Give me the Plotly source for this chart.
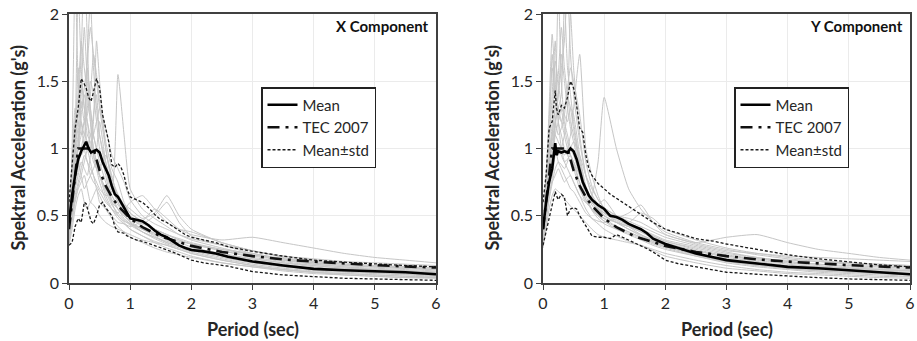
import plotly.graph_objects as go

# ---------------- data ----------------
periods = [0, .05, .1, .15, .2, .25, .3, .35, .4, .45, .5, .6, .7, .8, .9, 1.0,
           1.2, 1.4, 1.6, 1.8, 2.0, 2.5, 3.0, 3.5, 4.0, 4.5, 5.0, 5.5, 6.0]

records_x = [
    [.40,.70,1.10,2.20,1.60,1.30,1.20,1.00,.90,.85,.80,.70,.60,.55,.50,.45,.40,.36,.32,.28,.25,.20,.16,.13,.10,.09,.08,.07,.06],
    [.35,.60,.90,1.00,1.40,1.90,1.50,1.30,1.10,1.00,.90,.75,.62,.55,.48,.44,.38,.34,.30,.27,.24,.19,.15,.12,.10,.085,.075,.065,.055],
    [.45,.80,1.20,1.10,.95,1.00,1.70,2.10,1.60,1.30,1.10,.90,.70,.60,.52,.48,.42,.37,.33,.30,.27,.21,.17,.14,.11,.10,.09,.08,.07],
    [.30,.50,.70,.80,.90,.85,.80,.95,1.20,1.80,1.50,1.00,.75,.65,.55,.50,.44,.40,.36,.32,.29,.24,.20,.17,.14,.12,.11,.10,.09],
    [.50,.90,1.30,1.20,1.10,1.20,1.00,.90,.80,.75,.70,.65,.68,1.55,1.10,.70,.55,.48,.42,.36,.32,.26,.21,.17,.14,.12,.10,.09,.08],
    [.30,.45,.60,.70,.75,.80,.70,.60,.65,.70,.60,.55,.50,.45,.44,.42,.46,.55,.48,.40,.36,.32,.34,.30,.26,.22,.19,.17,.15],
    [.40,.60,.80,1.00,1.20,1.10,1.30,1.50,1.40,1.20,1.00,.80,.60,.50,.45,.40,.35,.30,.26,.23,.20,.15,.12,.09,.07,.06,.05,.04,.04],
    [.35,.55,.75,.90,.80,.70,.75,.80,.85,.90,.85,.95,.80,.62,.55,.60,.65,.55,.45,.40,.38,.30,.24,.20,.18,.16,.15,.14,.13],
    [.28,.40,.55,.65,.70,.60,.55,.60,.58,.55,.50,.45,.42,.40,.38,.36,.32,.30,.28,.25,.22,.17,.13,.10,.08,.06,.05,.04,.035],
    [.45,.75,1.00,1.60,1.30,1.40,1.20,1.10,1.25,1.40,1.10,.85,.65,.58,.52,.48,.44,.50,.60,.45,.35,.28,.22,.18,.15,.13,.12,.11,.10],
    [.38,.65,.95,1.10,1.50,1.30,1.10,1.05,.95,.85,.80,.70,.65,.55,.50,.46,.40,.35,.30,.28,.26,.22,.18,.15,.13,.11,.10,.09,.08],
    [.32,.50,.65,.75,.85,.95,.90,.80,.75,.72,.68,.60,.55,.50,.46,.44,.40,.37,.34,.31,.29,.25,.22,.18,.15,.13,.12,.11,.10],
    [.42,.70,1.20,1.40,1.80,1.60,1.40,1.20,1.00,.90,.80,.68,.58,.52,.47,.43,.38,.34,.31,.28,.25,.21,.18,.15,.12,.10,.09,.08,.07],
    [.36,.55,.85,1.00,1.10,1.20,1.60,1.30,1.10,1.00,1.20,.90,.72,.60,.52,.45,.38,.33,.29,.26,.23,.18,.14,.11,.09,.08,.07,.06,.05],
    [.30,1.00,2.30,1.50,1.20,1.00,.90,.85,.80,.70,.65,.55,.48,.42,.38,.34,.30,.26,.23,.21,.19,.15,.12,.10,.08,.07,.06,.05,.045],
    [.33,.55,.90,1.30,1.70,2.40,1.80,1.20,1.00,.90,.80,.65,.55,.48,.44,.40,.35,.31,.28,.25,.22,.17,.13,.10,.08,.07,.06,.05,.04],
    [.40,.62,.88,1.05,1.25,1.45,1.65,1.90,1.70,1.50,1.30,1.00,.78,.66,.58,.52,.45,.40,.36,.33,.30,.25,.21,.18,.16,.14,.13,.12,.11],
    [.36,.50,.70,.85,1.00,1.10,1.05,1.00,1.10,1.20,1.30,1.15,.95,.85,.75,.62,.50,.44,.40,.36,.33,.28,.24,.20,.17,.15,.13,.12,.11],
    [.30,.48,.62,.72,.80,.90,1.00,1.10,.95,.85,.75,.62,.55,.52,.58,.55,.48,.52,.65,.50,.40,.30,.24,.19,.16,.14,.12,.11,.10],
    [.44,.75,1.05,1.25,1.35,1.20,1.25,1.40,1.70,1.55,1.35,1.05,.85,.75,.60,.52,.46,.40,.36,.32,.29,.24,.19,.16,.13,.11,.10,.09,.08],
]

records_y = [
    [.35,.60,1.00,1.40,1.80,1.20,1.10,1.00,.95,.90,.85,.70,.60,.55,.50,.46,.42,.38,.34,.30,.27,.21,.17,.14,.11,.10,.09,.08,.07],
    [.30,.55,.85,1.10,1.30,2.20,1.50,1.20,1.10,1.00,.95,.80,.65,.55,.50,.46,.40,.36,.32,.28,.25,.20,.16,.13,.11,.09,.08,.07,.06],
    [.45,.80,1.10,1.00,1.20,1.30,1.40,2.10,1.60,1.40,1.20,.90,.70,.60,.55,.50,.45,.40,.35,.31,.28,.22,.18,.15,.12,.11,.10,.09,.08],
    [.28,.45,.70,.90,1.00,.95,1.00,1.10,1.30,2.00,1.60,1.10,.80,.65,.56,.50,.45,.42,.40,.36,.32,.27,.22,.19,.16,.14,.12,.11,.10],
    [.40,.65,.90,1.00,1.10,1.05,1.00,.95,1.00,1.10,1.30,1.70,1.00,.80,.65,.55,.48,.44,.40,.35,.31,.25,.20,.17,.14,.12,.11,.10,.09],
    [.32,.50,.65,.75,.80,.85,.80,.75,.78,.80,.75,.65,.60,.65,.90,1.38,1.00,.70,.55,.45,.38,.30,.25,.21,.18,.16,.14,.13,.12],
    [.38,.60,.85,.95,1.00,.90,.85,.80,.75,.70,.68,.60,.52,.48,.46,.45,.48,.52,.58,.45,.36,.30,.34,.36,.30,.25,.22,.19,.17],
    [.26,.40,.55,.65,.70,.68,.66,.62,.60,.57,.55,.50,.45,.40,.36,.34,.32,.30,.28,.24,.20,.15,.11,.09,.07,.06,.05,.04,.035],
    [.42,.70,1.20,1.60,1.40,1.30,1.20,1.10,1.00,.95,.90,.75,.62,.55,.50,.48,.45,.42,.38,.33,.29,.24,.20,.18,.17,.16,.15,.14,.13],
    [.36,.58,.80,.90,1.10,1.20,1.30,1.25,1.20,1.30,1.25,.95,.72,.62,.56,.52,.47,.43,.39,.35,.31,.26,.21,.18,.15,.13,.11,.10,.09],
    [.30,.48,.65,.78,.95,1.00,.95,.90,.92,.95,.90,.80,.70,.60,.55,.52,.50,.48,.45,.40,.36,.29,.24,.22,.20,.19,.18,.17,.16],
    [.44,.75,1.30,1.85,1.50,1.20,1.00,.90,.85,.80,.75,.65,.55,.48,.44,.40,.35,.31,.28,.25,.22,.17,.13,.10,.08,.07,.06,.05,.045],
    [.34,.55,.80,.95,1.20,1.40,1.70,1.50,1.30,1.15,1.05,.85,.68,.58,.52,.48,.42,.38,.34,.30,.27,.21,.16,.13,.11,.09,.08,.07,.06],
    [.40,.62,.90,1.05,1.20,1.10,1.15,1.25,1.40,1.20,1.10,.88,.70,.60,.58,.62,.50,.42,.36,.31,.27,.22,.18,.15,.12,.10,.09,.08,.07],
    [.38,.62,1.00,1.70,1.40,1.55,1.90,1.60,1.40,1.30,1.15,.90,.70,.60,.54,.50,.45,.40,.36,.32,.28,.22,.17,.14,.11,.10,.09,.08,.07],
    [.33,.52,.78,.95,1.15,1.40,1.60,1.80,2.20,1.70,1.40,1.05,.80,.66,.58,.52,.46,.42,.38,.34,.30,.24,.19,.16,.13,.12,.11,.10,.09],
    [.42,.68,.95,1.10,1.30,1.25,1.20,1.30,1.45,1.60,1.50,1.25,.90,.72,.62,.56,.50,.46,.42,.38,.34,.28,.23,.19,.16,.14,.13,.12,.11],
    [.30,.46,.62,.74,.85,.90,.88,.85,.90,1.00,1.05,.95,.80,.70,.62,.56,.50,.45,.52,.48,.40,.32,.26,.22,.19,.17,.15,.14,.13],
    [.36,.58,.85,1.20,1.65,1.50,1.30,1.15,1.05,.95,.88,.74,.62,.54,.48,.44,.40,.37,.33,.29,.26,.20,.15,.12,.10,.08,.07,.06,.05],
]

stat_periods_x = [0, .05, .1, .15, .2, .25, .28, .32, .36, .4, .45, .5, .55, .6, .65, .7, .75, .8, .85, .9, .95,
                  1.0, 1.1, 1.2, 1.3, 1.4, 1.5, 1.6, 1.7, 1.8, 1.9, 2.0, 2.2, 2.4, 2.6, 2.8, 3.0, 3.5, 4.0, 4.5, 5.0, 5.5, 6.0]
mean_x = [.45, .65, .80, .92, .98, 1.02, 1.05, 1.00, .97, .98, .99, .97, .90, .85, .80, .72, .66, .64, .60, .55, .52,
          .48, .47, .46, .43, .39, .36, .34, .31, .28, .26, .245, .235, .22, .195, .175, .16, .13, .105, .095, .088, .08, .065]
plus_x = [.60, .85, 1.15, 1.30, 1.52, 1.48, 1.45, 1.38, 1.35, 1.42, 1.52, 1.45, 1.25, 1.15, 1.05, .88, .86, .89, .86, .80, .70,
          .64, .62, .60, .56, .51, .47, .45, .42, .39, .36, .34, .32, .30, .27, .25, .235, .20, .17, .155, .14, .13, .12]
minus_x = [.28, .30, .42, .48, .45, .60, .59, .52, .46, .44, .50, .58, .60, .56, .53, .50, .42, .38, .375, .37, .35,
           .34, .32, .31, .295, .28, .265, .25, .23, .21, .19, .17, .15, .14, .125, .105, .085, .06, .045, .035, .03, .025, .02]

stat_periods_y = [0, .05, .1, .15, .2, .22, .25, .3, .35, .4, .45, .5, .55, .6, .65, .7, .75, .8, .9,
                  1.0, 1.1, 1.2, 1.3, 1.4, 1.5, 1.6, 1.7, 1.8, 2.0, 2.2, 2.5, 2.8, 3.0, 3.5, 4.0, 4.5, 5.0, 5.5, 6.0]
mean_y = [.40, .60, .75, .85, 1.04, .95, .98, .97, .98, .97, 1.00, .98, .92, .83, .75, .70, .65, .62, .58,
          .55, .50, .49, .47, .44, .42, .40, .37, .33, .29, .26, .22, .19, .17, .145, .12, .11, .095, .08, .065]
plus_y = [.60, .80, 1.15, 1.20, 1.43, 1.30, 1.25, 1.32, 1.30, 1.38, 1.50, 1.45, 1.32, 1.15, 1.12, .95, .85, .80, .74,
          .70, .66, .63, .60, .57, .54, .51, .48, .45, .40, .37, .33, .31, .29, .25, .21, .18, .155, .135, .12]
minus_y = [.28, .38, .50, .60, .68, .65, .62, .66, .64, .50, .55, .56, .55, .50, .46, .42, .38, .35, .34,
           .34, .33, .36, .34, .32, .30, .28, .255, .23, .17, .145, .12, .095, .08, .065, .05, .04, .03, .025, .02]

tec_periods = [0, .15, .4, .5, .6, .7, .8, .9, 1.0, 1.2, 1.5, 2.0, 2.5, 3.0, 3.5, 4.0, 4.5, 5.0, 5.5, 6.0]
tec_values = [.40, 1.00, 1.00, .837, .723, .639, .574, .523, .480, .415, .347, .276, .231, .200, .176, .159, .144, .133, .123, .115]

titles = ["X Component", "Y Component"]
x_title = "Period (sec)"
y_title = "Spektral Acceleration (g's)"
x_ticks = [0, 1, 2, 3, 4, 5, 6]
y_ticks = [0, 0.5, 1, 1.5, 2]
y_tick_text = ["0", "0.5", "1", "1.5", "2"]

# ---------------- figure ----------------
FONT = "Lato"
TXT = "#262626"
W, H = 917, 341
fig = go.Figure()

panels = [
    (records_x, stat_periods_x, mean_x, plus_x, minus_x, "x", "y", "legend"),
    (records_y, stat_periods_y, mean_y, plus_y, minus_y, "x2", "y2", "legend2"),
]

for recs, sp, mn, pl, mi, xa, ya, lg in panels:
    for r in recs:
        fig.add_trace(go.Scatter(x=periods, y=r, mode="lines", xaxis=xa, yaxis=ya,
                                 line=dict(color="#c6c6c6", width=1, shape="spline", smoothing=0.5),
                                 showlegend=False, hoverinfo="skip"))
    fig.add_trace(go.Scatter(x=sp, y=pl, mode="lines", xaxis=xa, yaxis=ya, name="Mean±std",
                             line=dict(color="#1a1a1a", width=1.3, dash="3px,2px"),
                             legend=lg, legendrank=3))
    fig.add_trace(go.Scatter(x=sp, y=mi, mode="lines", xaxis=xa, yaxis=ya, name="Mean±std",
                             line=dict(color="#1a1a1a", width=1.3, dash="3px,2px"),
                             showlegend=False))
    fig.add_trace(go.Scatter(x=tec_periods, y=tec_values, mode="lines", xaxis=xa, yaxis=ya, name="TEC 2007",
                             line=dict(color="#111111", width=2.6, dash="12px,6px,3px,6px"),
                             legend=lg, legendrank=2))
    fig.add_trace(go.Scatter(x=sp, y=mn, mode="lines", xaxis=xa, yaxis=ya, name="Mean",
                             line=dict(color="#000000", width=2.6),
                             legend=lg, legendrank=1))

top_px, bot_px = 14, 283
ydom = [1 - bot_px / H, 1 - top_px / H]
axis_common = dict(showline=True, linecolor="#404040", linewidth=1.5, mirror=True,
                   showgrid=True, gridcolor="#ebebeb", gridwidth=1, zeroline=False,
                   ticks="outside", ticklen=5, tickcolor="#404040", tickwidth=1.2,
                   automargin=False,
                   tickfont=dict(family=FONT, size=16, color=TXT))

x1 = [69, 436]
x2 = [543, 910]

legend_common = dict(xanchor="left", yanchor="top", bgcolor="white",
                     bordercolor="#222222", borderwidth=1.5,
                     font=dict(family=FONT, size=15, color=TXT),
                     itemwidth=30, tracegroupgap=0)

fig.update_layout(
    width=W, height=H,
    margin=dict(l=0, r=0, t=0, b=0, autoexpand=False),
    paper_bgcolor="white", plot_bgcolor="white",
    xaxis=dict(domain=[x1[0]/W, x1[1]/W], range=[0, 6], tickvals=x_ticks, anchor="y", **axis_common),
    yaxis=dict(domain=ydom, range=[0, 2], tickvals=y_ticks, ticktext=y_tick_text, anchor="x", **axis_common),
    xaxis2=dict(domain=[x2[0]/W, x2[1]/W], range=[0, 6], tickvals=x_ticks, anchor="y2", **axis_common),
    yaxis2=dict(domain=ydom, range=[0, 2], tickvals=y_ticks, ticktext=y_tick_text, anchor="x2", **axis_common),
    legend=dict(x=261/W, y=1-87/H, **legend_common),
    legend2=dict(x=734/W, y=1-87/H, **legend_common),
    showlegend=True,
)

for i, (xl, xr) in enumerate([x1, x2]):
    fig.add_annotation(text="<b>" + titles[i] + "</b>", xref="paper", yref="paper",
                       x=(xr - 5) / W, y=1 - 26 / H, xanchor="right", yanchor="middle", showarrow=False,
                       font=dict(family=FONT, size=15, color="#111111"))
    fig.add_annotation(text="<b>" + x_title + "</b>", xref="paper", yref="paper",
                       x=(xl + xr) / 2 / W, y=1 - 329 / H, xanchor="center", yanchor="middle", showarrow=False,
                       font=dict(family=FONT, size=18, color=TXT))
    fig.add_annotation(text="<b>" + y_title + "</b>", xref="paper", yref="paper",
                       x=(xl - 52) / W, y=1 - (top_px + bot_px) / 2 / H, xanchor="center", yanchor="middle",
                       textangle=-90, showarrow=False,
                       font=dict(family=FONT, size=18, color=TXT))

fig.write_html("out.html")
